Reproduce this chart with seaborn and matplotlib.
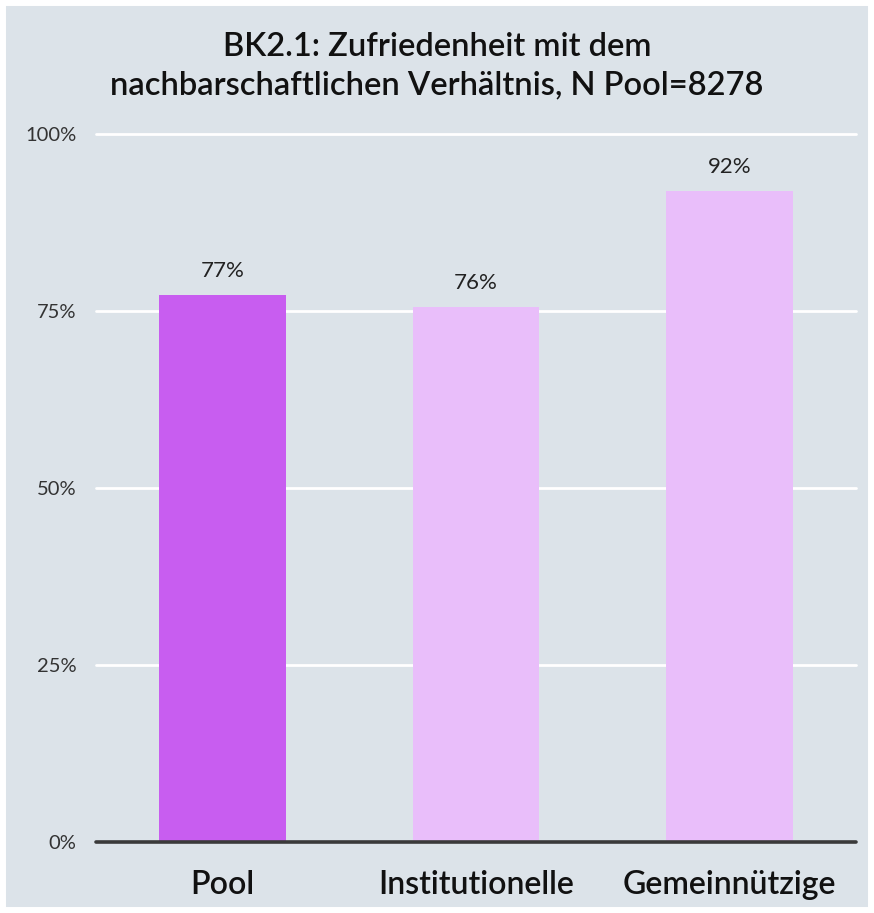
import matplotlib
matplotlib.use("Agg")
import seaborn as sns
import pandas as pd
from matplotlib import pyplot as plt
from matplotlib.patches import Rectangle
from matplotlib.ticker import FuncFormatter

categories = ["Pool", "Institutionelle", "Gemeinnützige"]
values = [0.773, 0.756, 0.919]
labels = ["77%", "76%", "92%"]
bar_colors = ["#C85DF0", "#E9BEFA", "#E9BEFA"]
yticks = [0, 0.25, 0.5, 0.75, 1.0]

bg = "#DCE3E9"

sns.set_theme(style="white")
plt.rcParams['font.family'] = ['Lato', 'DejaVu Sans']

df = pd.DataFrame({"cat": categories, "val": values})

fig = plt.figure(figsize=(8.74, 9.13), dpi=100, facecolor=bg)
# thin white frame round the grey card
fig.patches.append(Rectangle((0, 0), 1, 1, transform=fig.transFigure,
                             facecolor="none", edgecolor="white",
                             lw=8.6, zorder=10))
ax = fig.add_axes([96/874, 71/913, 760/874, 708/913])
ax.set_facecolor(bg)

sns.barplot(data=df, x="cat", y="val", hue="cat", palette=bar_colors,
            width=0.5, legend=False, ax=ax, zorder=3, saturation=1,
            linewidth=0, edgecolor="none")

ax.set_ylim(0, 1.0)
ax.set_xlim(-0.5, 2.5)
ax.set_yticks(yticks)
ax.yaxis.set_major_formatter(FuncFormatter(lambda v, p: f"{v*100:.0f}%"))
for y in yticks[1:]:
    ax.axhline(y, color="white", lw=2, zorder=1, clip_on=False)
ax.axhline(0, color="#3a3a3a", lw=2.6, zorder=4, clip_on=False)

for i, (v, t) in enumerate(zip(values, labels)):
    ax.text(i, v + 0.02, t, ha="center", va="bottom", fontsize=16,
            color="#222222", zorder=5)

for s in ax.spines.values():
    s.set_visible(False)
ax.tick_params(axis="y", length=0, pad=14, labelsize=14.5, labelcolor="#333333")
ax.tick_params(axis="x", length=0, pad=20, labelsize=23, labelcolor="#111111")
for lab in ax.get_xticklabels():
    lab.set_fontweight("semibold")
ax.set_xlabel("")
ax.set_ylabel("")

fig.text(0.5, 1 - 66/913, "BK2.1: Zufriedenheit mit dem\nnachbarschaftlichen Verhältnis, N Pool=8278",
         ha="center", va="center", fontsize=23.5, fontweight="semibold",
         color="#111111", linespacing=1.35)

fig.savefig("out.png", dpi=100, facecolor=bg)
